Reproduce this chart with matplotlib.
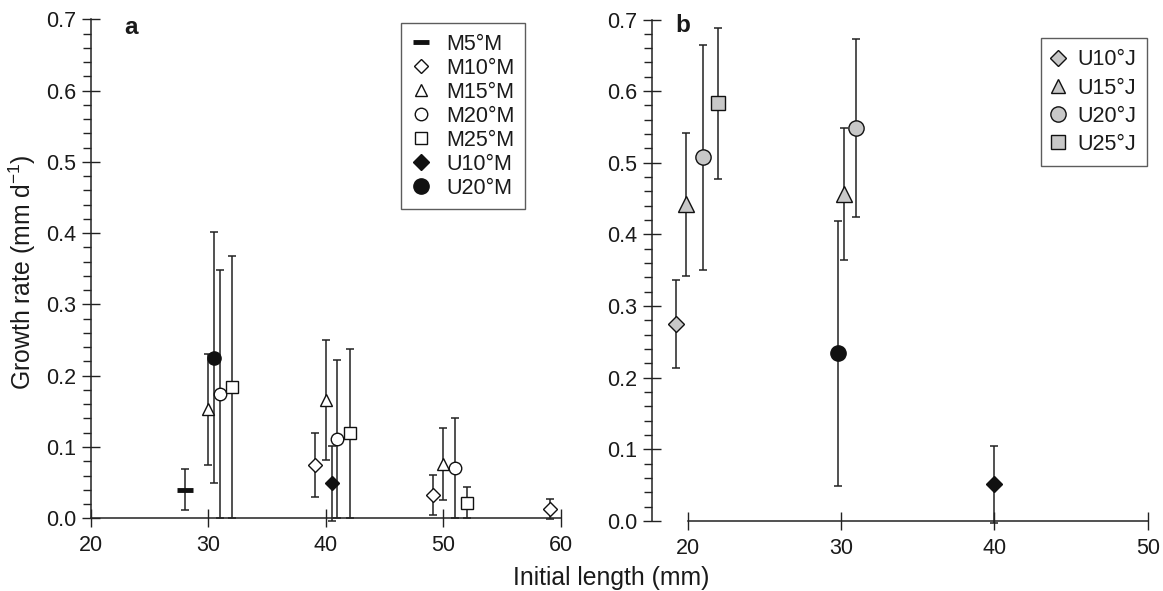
import matplotlib
matplotlib.use("Agg")
import matplotlib.pyplot as plt
from matplotlib.lines import Line2D
from matplotlib.ticker import MultipleLocator, FormatStrFormatter

plt.rcParams['font.family'] = ['Liberation Sans', 'DejaVu Sans']
plt.rcParams['mathtext.fontset'] = 'custom'
plt.rcParams['mathtext.rm'] = 'Liberation Sans'
plt.rcParams['mathtext.it'] = 'Liberation Sans:italic'
plt.rcParams['mathtext.bf'] = 'Liberation Sans:bold'

# ---------------- Panel a data ----------------
m5_x = [28.0]
m5_y = [0.040]
m5_e = [0.029]

m10_x = [39.1, 49.1, 59.1]
m10_y = [0.075, 0.033, 0.013]
m10_e = [0.045, 0.028, 0.014]

m15_x = [30.0, 40.0, 50.0]
m15_y = [0.153, 0.166, 0.076]
m15_e = [0.078, 0.084, 0.051]

m20_x = [31.0, 41.0, 51.0]
m20_y = [0.174, 0.111, 0.070]
m20_e = [0.174, 0.111, 0.070]

m25_x = [32.0, 42.1, 52.0]
m25_y = [0.184, 0.119, 0.022]
m25_e = [0.184, 0.119, 0.022]

u10m_a_x = [40.5]
u10m_a_y = [0.049]
u10m_a_e = [0.053]

u20m_a_x = [30.5]
u20m_a_y = [0.225]
u20m_a_e = [0.176]

# ---------------- Panel b data ----------------
u10j_x = [19.25]
u10j_y = [0.275]
u10j_e = [0.062]

u15j_x = [19.9, 30.2]
u15j_y = [0.442, 0.456]
u15j_e = [0.100, 0.092]

u20j_x = [21.0, 31.0]
u20j_y = [0.508, 0.549]
u20j_e = [0.157, 0.124]

u25j_x = [22.0]
u25j_y = [0.583]
u25j_e = [0.105]

u20m_b_x = [29.8]
u20m_b_y = [0.234]
u20m_b_e = [0.185]

u10m_b_x = [40.0]
u10m_b_y = [0.051]
u10m_b_e = [0.054]

yticks = [0.0, 0.1, 0.2, 0.3, 0.4, 0.5, 0.6, 0.7]
xticks_a = [20, 30, 40, 50, 60]
xticks_b = [20, 30, 40, 50]

legend_a = ['M5°M', 'M10°M', 'M15°M', 'M20°M', 'M25°M', 'U10°M', 'U20°M']
legend_b = ['U10°J', 'U15°J', 'U20°J', 'U25°J']

LC = '#222222'
BLK = '#111111'
GRY = '#c8c8c8'
TXT = '#1a1a1a'
W, H = 1163, 591
TICK_FS = 15.5
LEG_FS = 15.5
LAB_FS = 17.8

fig = plt.figure(figsize=(W / 100, H / 100), dpi=100)

ax1 = fig.add_axes([91 / W, (H - 518.3) / H, (560.5 - 91) / W, (518.3 - 19.3) / H])
ax2 = fig.add_axes([652 / W, (H - 521) / H, (1147.7 - 652) / W, (521 - 19.5) / H])


def series(ax, x, y, e, marker, face, ms, mew=1.0):
    ax.errorbar(x, y, yerr=e, fmt='none', ecolor=LC, elinewidth=1.1,
                capsize=2.6, capthick=1.1, zorder=2, clip_on=False)
    ax.plot(x, y, linestyle='none', marker=marker, markerfacecolor=face,
            markeredgecolor=BLK, markersize=ms, markeredgewidth=mew,
            zorder=3, clip_on=False)


# panel a
series(ax1, m5_x, m5_y, m5_e, '_', BLK, 11, 3.5)
series(ax1, m10_x, m10_y, m10_e, 'D', 'white', 7.5)
series(ax1, m15_x, m15_y, m15_e, '^', 'white', 9)
series(ax1, m20_x, m20_y, m20_e, 'o', 'white', 9)
series(ax1, m25_x, m25_y, m25_e, 's', 'white', 9)
series(ax1, u10m_a_x, u10m_a_y, u10m_a_e, 'D', BLK, 7.5)
series(ax1, u20m_a_x, u20m_a_y, u20m_a_e, 'o', BLK, 9.5)

# panel b
series(ax2, u10j_x, u10j_y, u10j_e, 'D', GRY, 8.5)
series(ax2, u15j_x, u15j_y, u15j_e, '^', GRY, 11)
series(ax2, u20j_x, u20j_y, u20j_e, 'o', GRY, 11)
series(ax2, u25j_x, u25j_y, u25j_e, 's', GRY, 10)
series(ax2, u20m_b_x, u20m_b_y, u20m_b_e, 'o', BLK, 11)
series(ax2, u10m_b_x, u10m_b_y, u10m_b_e, 'D', BLK, 8.5)

for ax, xt, xlim in ((ax1, xticks_a, (20, 60)), (ax2, xticks_b, (17.67, 50))):
    ax.set_xlim(*xlim)
    ax.set_ylim(0, 0.7)
    ax.set_xticks(xt)
    ax.set_yticks(yticks)
    ax.yaxis.set_minor_locator(MultipleLocator(0.02))
    ax.yaxis.set_major_formatter(FormatStrFormatter('%.1f'))
    for s in ('top', 'right'):
        ax.spines[s].set_visible(False)
    for s in ('left', 'bottom'):
        ax.spines[s].set_linewidth(1.1)
        ax.spines[s].set_color(LC)
    ax.spines['bottom'].set_bounds(xt[0], xt[-1])
    ax.spines['left'].set_bounds(0, 0.7)
    ax.tick_params(axis='y', which='major', direction='inout', length=13,
                   width=1.0, color=LC, labelsize=TICK_FS, pad=4.0, labelcolor=TXT)
    ax.tick_params(axis='y', which='minor', direction='out', length=5.8,
                   width=1.0, color=LC)
    ax.tick_params(axis='x', which='major', direction='inout', length=12.5,
                   width=1.0, color=LC, labelsize=TICK_FS, pad=6.0, labelcolor=TXT)
    ax.patch.set_alpha(0)


# legends
def mk(marker, face, ms, mew=1.0):
    return Line2D([], [], linestyle='none', marker=marker, markerfacecolor=face,
                  markeredgecolor=BLK, markersize=ms, markeredgewidth=mew)


ha = [mk('_', BLK, 11, 3.5), mk('D', 'white', 7), mk('^', 'white', 8),
      mk('o', 'white', 9), mk('s', 'white', 9), mk('D', BLK, 8), mk('o', BLK, 11)]
leg1 = ax1.legend(ha, legend_a, loc='upper left',
                  bbox_to_anchor=(401 / W, 1 - 23.3 / H), bbox_transform=fig.transFigure,
                  borderaxespad=0, frameon=True, fancybox=False, fontsize=LEG_FS,
                  labelspacing=0.14, handlelength=0.93, handletextpad=0.71,
                  borderpad=0.48)
leg1.get_frame().set_edgecolor('#333333')
leg1.get_frame().set_linewidth(1.0)
for t in leg1.get_texts():
    t.set_color(TXT)

hb = [mk('D', GRY, 8.5), mk('^', GRY, 10.5), mk('o', GRY, 11), mk('s', GRY, 10)]
leg2 = ax2.legend(hb, legend_b, loc='upper left',
                  bbox_to_anchor=(1041 / W, 1 - 38.3 / H), bbox_transform=fig.transFigure,
                  borderaxespad=0, frameon=True, fancybox=False, fontsize=LEG_FS,
                  labelspacing=0.33, handlelength=0.5, handletextpad=0.65,
                  borderpad=0.52)
leg2.get_frame().set_edgecolor('#333333')
leg2.get_frame().set_linewidth(1.0)
for t in leg2.get_texts():
    t.set_color(TXT)

# panel labels
fig.text(131 / W, 1 - 27 / H, 'a', fontsize=17.5, fontweight='bold',
         ha='center', va='center', color=TXT)
fig.text(683 / W, 1 - 25 / H, 'b', fontsize=17.5, fontweight='bold',
         ha='center', va='center', color=TXT)

# axis labels
fig.text(611 / W, 1 - 585 / H, 'Initial length (mm)', fontsize=LAB_FS,
         ha='center', va='baseline', color=TXT)
fig.text(22 / W, 1 - 272 / H, r'Growth rate (mm d$^{-1}$)', fontsize=LAB_FS,
         ha='center', va='center', rotation=90, color=TXT)

fig.savefig('out.png', dpi=100)
